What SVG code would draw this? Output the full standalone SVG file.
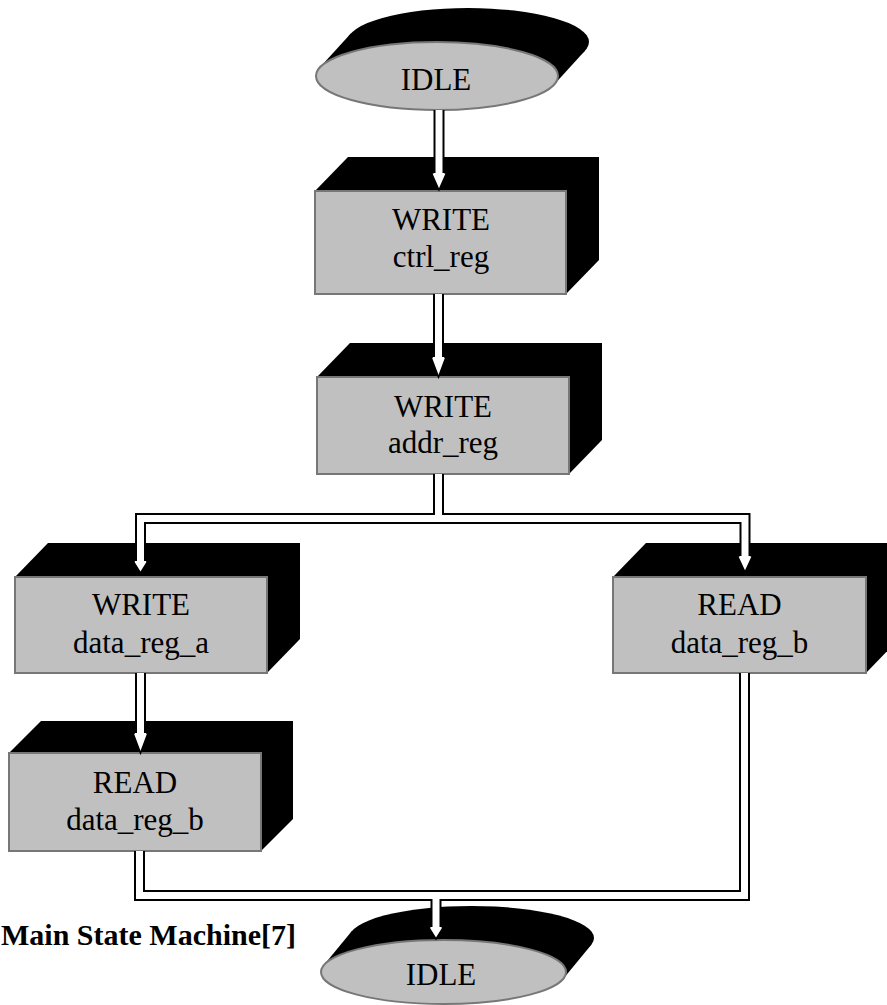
<svg xmlns="http://www.w3.org/2000/svg" width="887" height="1005" viewBox="0 0 887 1005">
  <style>
    .face { fill: #c0c0c0; stroke: #777; stroke-width: 2; }
    .shade { fill: #000; }
    text { font-family: 'Liberation Serif', Tinos, 'DejaVu Serif', 'Times New Roman', serif; fill: #000; }
    .lbl { font-size: 31px; text-anchor: middle; }
    .cap { font-size: 30px; font-weight: bold; text-anchor: start; }
    .pipe-o { fill: none; stroke: #000; stroke-width: 11; stroke-linejoin: miter; }
    .pipe-i { fill: none; stroke: #fff; stroke-width: 7; stroke-linejoin: miter; }
    .head { fill: #fff; stroke: #000; stroke-width: 1.5; stroke-linejoin: miter; }
  </style>
  <rect width="887" height="1005" fill="#fff"/>

  <!-- start state -->
  <g id="idle-start">
    <ellipse class="shade" cx="468" cy="42" rx="121" ry="34"/>
    <polygon class="shade" points="554.2,84.4 585.2,50.4 350.8,33.6 319.8,67.6"/>
    <ellipse class="face" cx="437" cy="76" rx="121" ry="34" stroke="#888" stroke-width="1.5"/>
    <text class="lbl" x="436" y="90" font-family="Liberation Serif, serif">IDLE</text>
  </g>

  <g id="write-ctrl">
    <polygon class="shade" points="315,191 348,157 599,157 599,260 566,294"/>
    <rect class="face" x="315" y="191" width="251" height="103"/>
    <text class="lbl" x="441" y="230" font-family="Liberation Serif, serif">WRITE</text>
    <text class="lbl" x="441" y="267" font-family="Liberation Serif, serif">ctrl_reg</text>
  </g>

  <g id="write-addr">
    <polygon class="shade" points="317,377 350,343 602,343 602,440 569,474"/>
    <rect class="face" x="317" y="377" width="252" height="97"/>
    <text class="lbl" x="443" y="417" font-family="Liberation Serif, serif">WRITE</text>
    <text class="lbl" x="443" y="453" font-family="Liberation Serif, serif">addr_reg</text>
  </g>

  <g id="write-data-a">
    <polygon class="shade" points="15,577 48,543 300,543 300,639 267,673"/>
    <rect class="face" x="15" y="577" width="252" height="96"/>
    <text class="lbl" x="141" y="615" font-family="Liberation Serif, serif">WRITE</text>
    <text class="lbl" x="141" y="653" font-family="Liberation Serif, serif">data_reg_a</text>
  </g>

  <g id="read-data-b-right">
    <polygon class="shade" points="613,577 646,543 899,543 899,639 866,673"/>
    <rect class="face" x="613" y="577" width="253" height="96"/>
    <text class="lbl" x="739.5" y="615" font-family="Liberation Serif, serif">READ</text>
    <text class="lbl" x="739.5" y="653" font-family="Liberation Serif, serif">data_reg_b</text>
  </g>

  <g id="read-data-b-left">
    <polygon class="shade" points="9,753 41,721 293,721 293,819 261,851"/>
    <rect class="face" x="9" y="753" width="252" height="98"/>
    <text class="lbl" x="135" y="793" font-family="Liberation Serif, serif">READ</text>
    <text class="lbl" x="135" y="830" font-family="Liberation Serif, serif">data_reg_b</text>
  </g>

  <!-- end state -->
  <g id="idle-end">
    <ellipse class="shade" cx="471.5" cy="938" rx="122.5" ry="32"/>
    <polygon class="shade" points="563.3,978.7 591.3,944.7 351.7,931.3 323.7,965.3"/>
    <ellipse class="face" cx="443.5" cy="972" rx="122.5" ry="32" stroke="#888" stroke-width="1.5"/>
    <text class="lbl" x="441" y="985" font-family="Liberation Serif, serif">IDLE</text>
  </g>

  <g id="caption">
    <text class="cap" x="1" y="945" font-family="Liberation Serif, serif">Main State Machine[7]</text>
  </g>

  <!-- transitions: black outline pass, heads, then white core pass -->
  <g id="connectors">
    <g class="pipe-o">
      <path d="M439 110 V173"/>
      <path d="M438.5 294 V357"/>
      <path d="M438.5 474 V518.5"/>
      <path d="M140.5 561 V518.5 H745 V556"/>
      <path d="M140.5 673 V733"/>
      <path d="M139.5 851 V895.5 H744.5 V673"/>
      <path d="M436 895.5 V927"/>
    </g>
    <g class="head">
      <path d="M433.5 173 L431.5 173 L439 190 L446.5 173 L444.5 173"/>
      <path d="M433 357 L431 357 L438.5 377 L446 357 L444 357"/>
      <path d="M135 561 L133 561 L140.5 573 L148 561 L146 561"/>
      <path d="M739.5 556 L737.5 556 L745 572 L752.5 556 L750.5 556"/>
      <path d="M135 733 L133 733 L140.5 753 L148 733 L146 733"/>
      <path d="M430.5 927 L428.5 927 L436 939 L443.5 927 L441.5 927"/>
    </g>
    <g class="pipe-i">
      <path d="M439 110 V175"/>
      <path d="M438.5 294 V359"/>
      <path d="M438.5 474 V518.5"/>
      <path d="M140.5 563 V518.5 H745 V558"/>
      <path d="M140.5 673 V735"/>
      <path d="M139.5 851 V895.5 H744.5 V673"/>
      <path d="M436 895.5 V929"/>
    </g>
  </g>
</svg>
